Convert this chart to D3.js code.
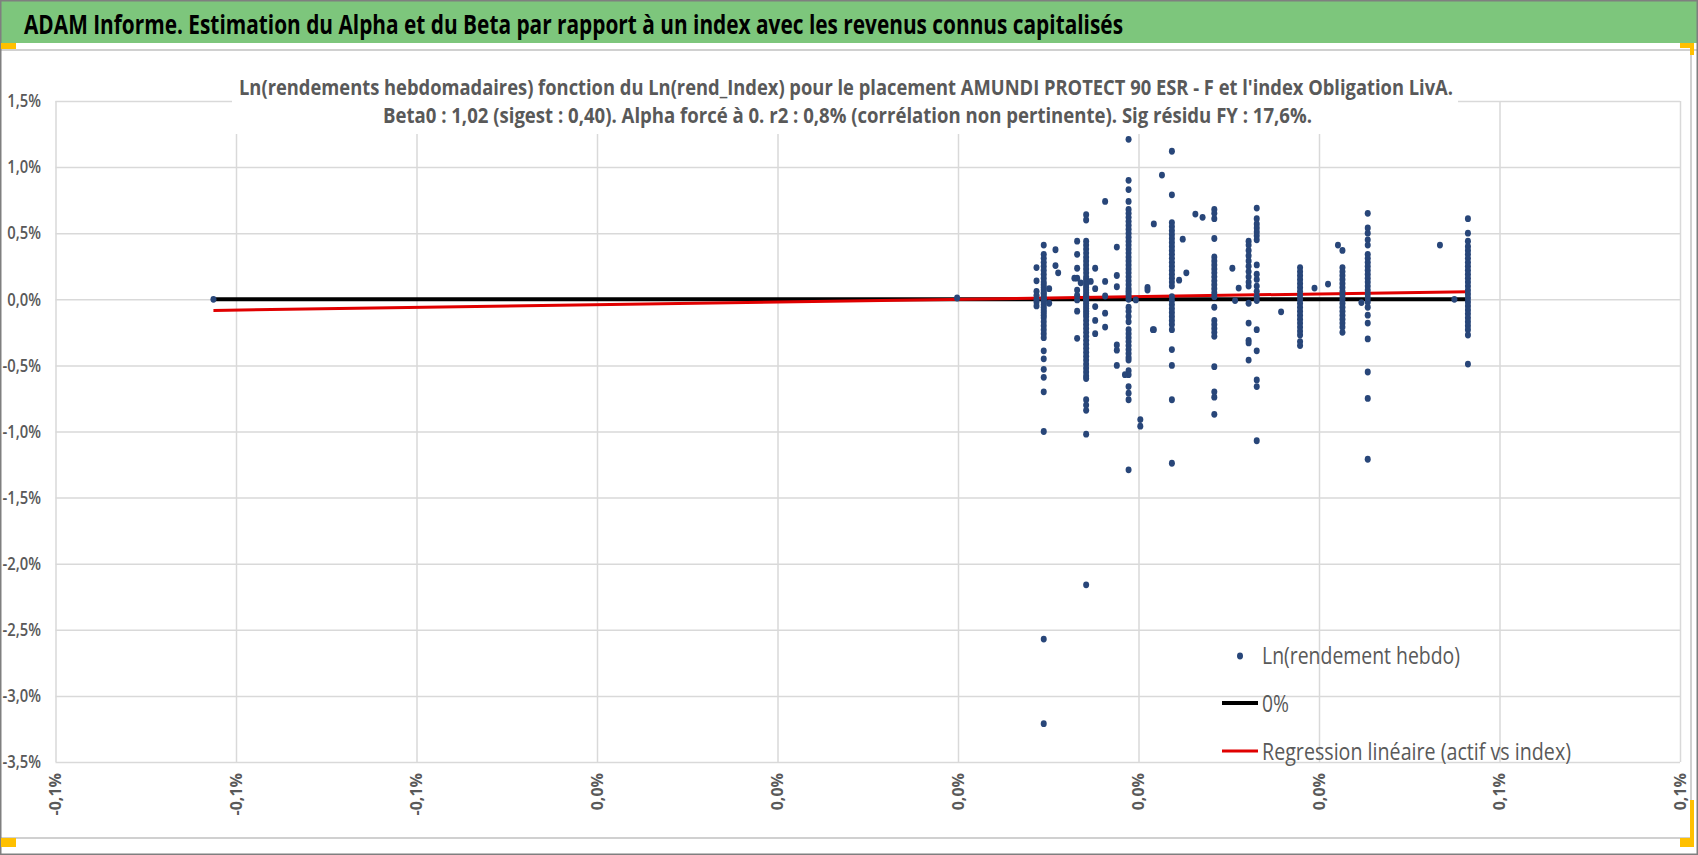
<!DOCTYPE html>
<html>
<head>
<meta charset="utf-8">
<script src="https://cdn.jsdelivr.net/npm/d3@7"></script>
<style>
  html, body { margin: 0; padding: 0; background: #fff; }
  svg { display: block; }
  text { font-family: "Open Sans", "Liberation Sans", sans-serif; }
</style>
</head>
<body>
<svg id="chart" width="1698" height="855"></svg>
<script>
// ---- data (values in %) ----
const pageTitle = "ADAM Informe. Estimation du Alpha et du Beta par rapport à un index avec les revenus connus capitalisés";
const chartTitle1 = "Ln(rendements hebdomadaires) fonction du Ln(rend_Index) pour le placement AMUNDI PROTECT 90 ESR - F et l'index Obligation LivA.";
const chartTitle2 = "Beta0 : 1,02 (sigest : 0,40). Alpha forcé à 0. r2 : 0,8% (corrélation non pertinente). Sig résidu FY : 17,6%.";

const xTicks = [-0.10, -0.08, -0.06, -0.04, -0.02, 0.00, 0.02, 0.04, 0.06, 0.08];
const xTickLabels = ["-0,1%", "-0,1%", "-0,1%", "0,0%", "0,0%", "0,0%", "0,0%", "0,0%", "0,1%", "0,1%"];
const yTicks = [1.5, 1.0, 0.5, 0.0, -0.5, -1.0, -1.5, -2.0, -2.5, -3.0, -3.5];
const yTickLabels = ["1,5%", "1,0%", "0,5%", "0,0%", "-0,5%", "-1,0%", "-1,5%", "-2,0%", "-2,5%", "-3,0%", "-3,5%"];

const legendNames = ["Ln(rendement hebdo)", "0%", "Regression linéaire (actif vs index)"];

// index return of each dense column
const colX = [0.0095, 0.0142, 0.0189, 0.0237, 0.0284, 0.0322, 0.0331, 0.0379, 0.0426, 0.0454, 0.0565];

// asset returns stacked in each column
const colA = [0.41, 0.34, 0.31, 0.28, 0.25, 0.22, 0.19, 0.16, 0.13, 0.11, 0.09, 0.07, 0.05, 0.04, 0.02, 0.01, 0.00,
  -0.01, -0.02, -0.04, -0.06, -0.08, -0.10, -0.12, -0.14, -0.17, -0.20, -0.23, -0.26, -0.29, -0.39, -0.45,
  -0.53, -0.59, -0.70, -1.00, -2.57, -3.21];
const colB = [0.64, 0.60, 0.44, 0.41, 0.38, 0.35, 0.32, 0.29, 0.26, 0.23, 0.20, 0.17, 0.15, 0.13, 0.11, 0.09, 0.07,
  0.05, 0.03, 0.02, 0.01, 0.00, -0.01, -0.03, -0.05, -0.07, -0.09, -0.11, -0.13, -0.16, -0.19, -0.22, -0.25,
  -0.28, -0.31, -0.34, -0.37, -0.40, -0.43, -0.46, -0.49, -0.52, -0.55, -0.58, -0.60, -0.76, -0.80, -0.84,
  -1.02, -2.16];
const colC = [1.21, 0.90, 0.83, 0.74, 0.68, 0.65, 0.62, 0.59, 0.56, 0.53, 0.50, 0.47, 0.44, 0.41, 0.38, 0.35, 0.32,
  0.29, 0.26, 0.23, 0.20, 0.17, 0.14, 0.11, 0.08, 0.06, 0.04, 0.02, 0.00, -0.06, -0.09, -0.13, -0.17, -0.23,
  -0.26, -0.29, -0.32, -0.35, -0.38, -0.41, -0.44, -0.46, -0.54, -0.57, -0.66, -0.71, -0.76, -1.29];
const colD = [1.12, 0.79, 0.58, 0.55, 0.52, 0.49, 0.46, 0.43, 0.40, 0.37, 0.34, 0.31, 0.28, 0.25, 0.22, 0.19, 0.16,
  0.13, 0.10, 0.02, -0.01, -0.04, -0.07, -0.10, -0.13, -0.16, -0.19, -0.23, -0.38, -0.50, -0.76, -1.24];
const colE = [0.68, 0.65, 0.61, 0.46, 0.32, 0.29, 0.26, 0.23, 0.20, 0.17, 0.14, 0.11, 0.08, 0.05, 0.02, -0.06,
  -0.16, -0.19, -0.22, -0.25, -0.28, -0.51, -0.70, -0.74, -0.87];
const colF = [0.44, 0.41, 0.37, 0.33, 0.29, 0.25, 0.21, 0.17, 0.13, 0.10, -0.03, -0.18, -0.31, -0.33, -0.46];
const colG = [0.69, 0.61, 0.57, 0.54, 0.51, 0.48, 0.45, 0.26, 0.19, 0.15, 0.10, 0.06, 0.02, -0.01, -0.23, -0.39,
  -0.61, -0.66, -1.07];
const colH = [0.24, 0.21, 0.18, 0.15, 0.12, 0.09, 0.06, 0.03, 0.00, -0.03, -0.06, -0.09, -0.12, -0.15, -0.18,
  -0.21, -0.24, -0.27, -0.32, -0.35];
const colI = [0.37, 0.24, 0.21, 0.18, 0.15, 0.12, 0.09, 0.06, 0.03, 0.00, -0.03, -0.06, -0.09, -0.12, -0.15,
  -0.18, -0.21, -0.25];
const colJ = [0.65, 0.54, 0.50, 0.45, 0.41, 0.34, 0.31, 0.28, 0.25, 0.22, 0.19, 0.16, 0.13, 0.10, 0.07, 0.04,
  0.01, -0.02, -0.06, -0.12, -0.18, -0.30, -0.55, -0.75, -1.21];
const colK = [0.61, 0.50, 0.44, 0.40, 0.37, 0.34, 0.31, 0.28, 0.25, 0.22, 0.19, 0.16, 0.13, 0.10, 0.07, 0.04,
  0.01, -0.02, -0.05, -0.08, -0.11, -0.14, -0.17, -0.20, -0.23, -0.27, -0.49];
const colY = [colA, colB, colC, colD, colE, colF, colG, colH, colI, colJ, colK];

// isolated points
const strayX = [-0.0825, -0.0001,
  0.0087, 0.0087, 0.0087, 0.0087, 0.0087, 0.0087, 0.0087,
  0.0101, 0.0101,
  0.0108, 0.0108, 0.0111,
  0.0132, 0.0132, 0.0132, 0.0132, 0.0132, 0.0132, 0.0132, 0.0132, 0.0132,
  0.0129, 0.0136, 0.0147,
  0.0152, 0.0152, 0.0152, 0.0152, 0.0152,
  0.0163, 0.0163, 0.0163, 0.0163, 0.0163,
  0.0176, 0.0176, 0.0176, 0.0176, 0.0176, 0.0176,
  0.0197, 0.0185,
  0.0202, 0.0202,
  0.0210, 0.0210,
  0.0217, 0.0217, 0.0216,
  0.0226,
  0.0245, 0.0249, 0.0253, 0.0263, 0.0271,
  0.0304, 0.0307, 0.0311,
  0.0358, 0.0395, 0.0410, 0.0421, 0.0447, 0.0534, 0.0550];
const strayY = [0.00, 0.01,
  0.24, 0.14, 0.06, 0.03, 0.00, -0.02, -0.05,
  0.08, -0.03,
  0.375, 0.255, 0.20,
  0.44, 0.34, 0.235, 0.16, 0.07, 0.03, -0.005, -0.09, -0.295,
  0.16, 0.125, 0.135,
  0.235, 0.08, -0.055, -0.16, -0.26,
  0.74, 0.135, 0.025, -0.105, -0.21,
  0.395, 0.18, 0.095, -0.345, -0.385, -0.50,
  -0.005, -0.57,
  -0.91, -0.96,
  0.07, 0.09,
  0.57, -0.23, -0.23,
  0.94,
  0.145, 0.455, 0.20, 0.645, 0.62,
  0.235, -0.01, 0.085,
  -0.095, 0.085, 0.115, 0.41, -0.025, 0.41, 0.00];

// 0% line and regression line (end points)
const lineX = [-0.0825, 0.0565];
const zeroY = [0, 0];
const regY = [-0.0842, 0.0576];

// ---- build points ----
const points = [];
colX.forEach((cx, i) => colY[i].forEach(v => points.push({x: cx, y: v})));
strayX.forEach((sx, i) => points.push({x: sx, y: strayY[i]}));

const svg = d3.select('#chart');
const W = 1698, H = 855;

const x = d3.scaleLinear().domain([-0.1, 0.08]).range([55.5, 1680]);
const y = d3.scaleLinear().domain([-3.5, 1.5]).range([762, 101]);

function squeeze(sel, width) {
  sel.attr('textLength', width).attr('lengthAdjust', 'spacingAndGlyphs');
}

// frame
svg.append('rect').attr('x', 0).attr('y', 0).attr('width', W).attr('height', H).attr('fill', '#fff');
svg.append('rect').attr('x', 1).attr('y', 1).attr('width', W - 2).attr('height', 42)
  .attr('fill', '#7dc67c');
svg.append('line').attr('x1', 0).attr('x2', W).attr('y1', 50).attr('y2', 50)
  .attr('stroke', '#d0d0d0').attr('stroke-width', 2);
svg.append('line').attr('x1', 1691).attr('x2', 1691).attr('y1', 50).attr('y2', 838)
  .attr('stroke', '#d0d0d0').attr('stroke-width', 2);
svg.append('line').attr('x1', 0).attr('x2', 1691).attr('y1', 838).attr('y2', 838)
  .attr('stroke', '#d0d0d0').attr('stroke-width', 2);
svg.append('rect').attr('x', 0.75).attr('y', 0.75).attr('width', W - 1.5).attr('height', H - 1.5)
  .attr('fill', 'none').attr('stroke', '#7f7f7f').attr('stroke-width', 1.5);

// selection handles
const handles = svg.append('g').attr('fill', '#ffc000');
handles.append('rect').attr('x', 1).attr('y', 43).attr('width', 15).attr('height', 6);
handles.append('rect').attr('x', 1680).attr('y', 43).attr('width', 14).attr('height', 5);
handles.append('rect').attr('x', 1690).attr('y', 43).attr('width', 4).attr('height', 12);
handles.append('rect').attr('x', 1).attr('y', 838).attr('width', 15).attr('height', 9);
handles.append('rect').attr('x', 1690).attr('y', 800).attr('width', 4).attr('height', 40);
handles.append('rect').attr('x', 1680).attr('y', 838).attr('width', 14).attr('height', 9);

svg.append('text').attr('x', 24).attr('y', 34)
  .attr('font-size', 27).attr('font-weight', 'bold').attr('fill', '#000')
  .text(pageTitle).call(squeeze, 1099);

// grid
const gx = svg.append('g').attr('transform', `translate(0,${y(-3.5)})`)
  .call(d3.axisBottom(x).tickValues(xTicks).tickSize(-(y(-3.5) - y(1.5))).tickFormat(''));
const gy = svg.append('g').attr('transform', `translate(${x(-0.1)},0)`)
  .call(d3.axisLeft(y).tickValues(yTicks).tickSize(-(x(0.08) - x(-0.1))).tickFormat(''));
[gx, gy].forEach(g => {
  g.select('.domain').remove();
  g.selectAll('.tick line').attr('stroke', '#d9d9d9').attr('stroke-width', 1.5);
});

// title box hides the grid behind the chart title
svg.append('rect').attr('x', 232).attr('y', 60).attr('width', 1226).attr('height', 74).attr('fill', '#fff');
svg.append('text').attr('x', 239).attr('y', 95)
  .attr('font-size', 21).attr('font-weight', 'bold').attr('fill', '#595959')
  .text(chartTitle1).call(squeeze, 1214);
svg.append('text').attr('x', 383).attr('y', 123)
  .attr('font-size', 21).attr('font-weight', 'bold').attr('fill', '#595959')
  .text(chartTitle2).call(squeeze, 929);

// axis labels
const yLab = svg.append('g').attr('transform', `translate(41,0)`)
  .call(d3.axisLeft(y).tickValues(yTicks).tickSize(0).tickPadding(0).tickFormat((d, i) => yTickLabels[i]));
yLab.select('.domain').remove();
yLab.selectAll('text')
  .attr('font-family', '"Open Sans", sans-serif').attr('font-size', 18).attr('fill', '#595959')
  .attr('font-weight', 600)
  .each(function () {
    const w = this.getComputedTextLength();
    d3.select(this).attr('textLength', w * 0.82).attr('lengthAdjust', 'spacingAndGlyphs');
  });

svg.append('g').selectAll('text').data(xTicks).join('text')
  .attr('transform', d => `translate(${x(d)},773) rotate(-90)`)
  .attr('text-anchor', 'end').attr('dy', '0.35em')
  .attr('font-family', '"DejaVu Sans Mono", monospace').attr('font-weight', 'bold')
  .attr('font-size', 16).attr('fill', '#595959')
  .text((d, i) => xTickLabels[i]);

// lines
const line = d3.line().x(d => x(d[0])).y(d => y(d[1]));
svg.append('path').attr('d', line(lineX.map((v, i) => [v, zeroY[i]])))
  .attr('stroke', '#000').attr('stroke-width', 4).attr('fill', 'none');
svg.append('path').attr('d', line(lineX.map((v, i) => [v, regY[i]])))
  .attr('stroke', '#e00000').attr('stroke-width', 3).attr('fill', 'none');

// dots
svg.append('g').selectAll('ellipse').data(points).join('ellipse')
  .attr('cx', d => x(d.x)).attr('cy', d => y(d.y))
  .attr('rx', 3).attr('ry', 3.4).attr('fill', '#284679');

// legend
const lg = svg.append('g');
lg.append('ellipse').attr('cx', 1240).attr('cy', 656).attr('rx', 3).attr('ry', 3.4).attr('fill', '#284679');
lg.append('line').attr('x1', 1222).attr('x2', 1258).attr('y1', 703).attr('y2', 703)
  .attr('stroke', '#000').attr('stroke-width', 4);
lg.append('line').attr('x1', 1222).attr('x2', 1258).attr('y1', 751).attr('y2', 751)
  .attr('stroke', '#e00000').attr('stroke-width', 3);
const legendY = [656, 704, 752];
const legendW = [198, 27, 309];
legendNames.forEach((name, i) => {
  lg.append('text').attr('x', 1262).attr('y', legendY[i]).attr('dy', '0.35em')
    .attr('font-size', 23).attr('fill', '#595959')
    .text(name).call(squeeze, legendW[i]);
});
</script>
</body>
</html>
